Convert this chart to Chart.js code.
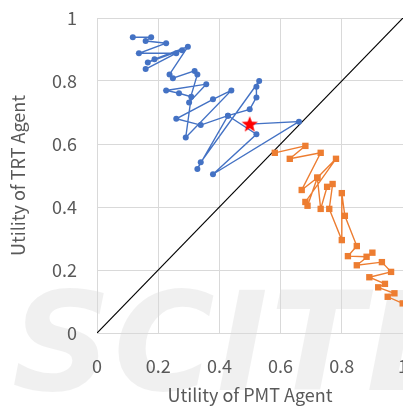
<!DOCTYPE html>
<html>
<head>
<meta charset="utf-8">
<script src="https://cdn.jsdelivr.net/npm/chart.js@4.4.1/dist/chart.umd.min.js"></script>
<style>
  html, body { margin: 0; padding: 0; background: #fff; overflow: hidden; }
  .wrap { position: relative; width: 403px; height: 406px; overflow: hidden; }
  .mark {
    position: absolute; left: 12px; top: 262px;
    font: italic 900 138px "DejaVu Sans", sans-serif;
    color: rgba(0, 0, 0, 0.06); letter-spacing: 2px; white-space: nowrap;
  }
  canvas { position: absolute; left: 0; top: 0; }
</style>
</head>
<body>
<div class="wrap">
  <div class="mark">SCITE</div>
  <canvas id="chart" width="403" height="406"></canvas>
</div>
<script>
// blue agent trace (PMT utility, TRT utility)
const blueX = [0.117, 0.177, 0.159, 0.226, 0.137, 0.259, 0.159, 0.278, 0.166, 0.188, 0.297,
  0.237, 0.248, 0.319, 0.328, 0.301, 0.357, 0.226, 0.268, 0.308, 0.290, 0.439, 0.379,
  0.259, 0.339, 0.428, 0.499, 0.521, 0.521, 0.530, 0.339, 0.328, 0.428, 0.521, 0.379,
  0.660, 0.499];
const blueY = [0.939, 0.939, 0.927, 0.920, 0.888, 0.888, 0.838, 0.898, 0.859, 0.869, 0.909,
  0.821, 0.809, 0.832, 0.821, 0.732, 0.790, 0.770, 0.761, 0.750, 0.621, 0.770, 0.742,
  0.680, 0.660, 0.690, 0.710, 0.748, 0.782, 0.800, 0.542, 0.521, 0.690, 0.631, 0.504,
  0.671, 0.663];

// orange agent trace
const orangeX = [0.581, 0.681, 0.630, 0.731, 0.669, 0.720, 0.781, 0.681, 0.688, 0.720,
  0.731, 0.752, 0.770, 0.759, 0.800, 0.800, 0.810, 0.849, 0.820, 0.881, 0.900, 0.849,
  0.931, 0.961, 0.890, 0.941, 0.919, 0.972, 0.950, 0.999];
const orangeY = [0.572, 0.594, 0.553, 0.572, 0.454, 0.493, 0.553, 0.416, 0.404, 0.493,
  0.394, 0.464, 0.473, 0.394, 0.295, 0.444, 0.372, 0.276, 0.244, 0.242, 0.255, 0.215,
  0.225, 0.194, 0.177, 0.156, 0.145, 0.126, 0.115, 0.094];

// agreement point and the reference diagonal
const starX = [0.499];
const starY = [0.663];
const diagX = [0, 1];
const diagY = [0, 1];

const tickLabels = ["0", "0.2", "0.4", "0.6", "0.8", "1"];

const pairs = (xs, ys) => xs.map((x, i) => ({ x: x, y: ys[i] }));

// filled red star used as point image
const starImg = document.createElement("canvas");
starImg.width = 18;
starImg.height = 18;
(() => {
  const c = starImg.getContext("2d");
  c.fillStyle = "#ff0000";
  c.beginPath();
  for (let i = 0; i < 10; i++) {
    const r = i % 2 === 0 ? 8.5 : 3.6;
    const a = -Math.PI / 2 + (i * Math.PI) / 5;
    const px = 9 + r * Math.cos(a);
    const py = 9.5 + r * Math.sin(a);
    if (i === 0) c.moveTo(px, py);
    else c.lineTo(px, py);
  }
  c.closePath();
  c.fill();
})();

const textColor = "#595959";
const gridColor = "#d9d9d9";
const font = { family: "'Noto Sans CJK JP', 'Noto Sans', sans-serif", size: 18 };

new Chart(document.getElementById("chart"), {
  type: "scatter",
  data: {
    datasets: [
      {
        label: "Agreement",
        data: pairs(starX, starY),
        pointStyle: starImg,
        order: 0,
      },
      {
        label: "TRT",
        data: pairs(blueX, blueY),
        showLine: true,
        borderColor: "#4472c4",
        backgroundColor: "#4472c4",
        borderWidth: 1.4,
        pointRadius: 3,
        pointBorderWidth: 0,
        order: 1,
      },
      {
        label: "PMT",
        data: pairs(orangeX, orangeY),
        showLine: true,
        borderColor: "#ed7d31",
        backgroundColor: "#ed7d31",
        borderWidth: 1.4,
        pointStyle: "rect",
        pointRadius: 4.5,
        pointBorderWidth: 0,
        order: 2,
      },
      {
        label: "Diagonal",
        data: pairs(diagX, diagY),
        showLine: true,
        borderColor: "#000000",
        borderWidth: 1.2,
        pointRadius: 0,
        order: 3,
      },
    ],
  },
  options: {
    responsive: false,
    animation: false,
    devicePixelRatio: 1,
    layout: { autoPadding: false, padding: { top: 18, right: 0, left: 0, bottom: 0 } },
    plugins: { legend: { display: false }, tooltip: { enabled: false } },
    scales: {
      x: {
        type: "linear",
        min: 0,
        max: 1,
        afterFit: (s) => {
          s.height = 73;
          s.paddingRight = 0;
        },
        ticks: {
          stepSize: 0.2,
          padding: 22,
          color: textColor,
          font: font,
          maxRotation: 0,
          callback: (v, i) => tickLabels[i],
        },
        grid: { color: gridColor, drawTicks: false },
        border: { color: gridColor },
        title: {
          display: true,
          text: "Utility of PMT Agent",
          color: textColor,
          font: font,
          padding: { top: 0, bottom: 0 },
        },
      },
      y: {
        type: "linear",
        min: 0,
        max: 1,
        afterFit: (s) => {
          s.width = 97;
          s.paddingTop = 0;
          s.paddingBottom = 0;
        },
        ticks: {
          stepSize: 0.2,
          padding: 20,
          color: textColor,
          font: font,
          callback: (v, i) => tickLabels[i],
        },
        grid: { color: gridColor, drawTicks: false },
        border: { color: gridColor },
        title: {
          display: true,
          text: "Utility of TRT Agent",
          color: textColor,
          font: font,
          padding: { top: 7, bottom: 0 },
        },
      },
    },
  },
});
</script>
</body>
</html>
